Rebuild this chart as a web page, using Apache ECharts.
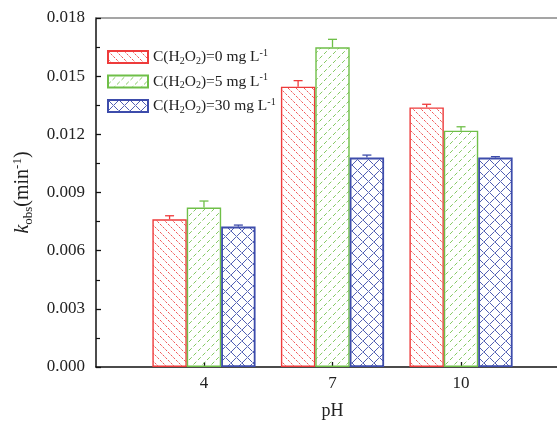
<!DOCTYPE html>
<html><head><meta charset="utf-8">
<script src="https://cdn.jsdelivr.net/npm/echarts@6/dist/echarts.min.js"></script>
<style>html,body{margin:0;padding:0;background:#fff}#c{width:557px;height:425px}</style>
</head><body><div id="c"></div>
<script>
// ---- data ----
const categories = ['4', '7', '10'];
const catIndex = [1, 2, 3];
const yTicks = ['0.000','0.003','0.006','0.009','0.012','0.015','0.018'];
const seriesNames = ['C(H2O2)=0 mg L-1', 'C(H2O2)=5 mg L-1', 'C(H2O2)=30 mg L-1'];
const k0 = [0.00762, 0.01446, 0.01339];
const err0 = [0.00018, 0.00031, 0.00016];
const k5 = [0.00822, 0.01649, 0.01219];
const err5 = [0.00034, 0.00041, 0.00020];
const k30 = [0.00724, 0.01080, 0.01080];
const err30 = [0.00008, 0.00013, 0.00005];

const colors = ['#ee3b3b', '#6fbf48', '#3d4cab'];
const BAR_W = 34.4;
const FONT = '"Liberation Serif", "Times New Roman", serif';

function makePattern(kind, color) {
  const s = kind === 'cross' ? 11 : (kind === 'back' ? 8 : 9);
  const c = document.createElement('canvas');
  c.width = s; c.height = s;
  const g = c.getContext('2d');
  g.strokeStyle = color; g.lineWidth = 1;
  const L = s * Math.SQRT2;
  if (kind === 'back') { g.globalAlpha = 0.85; g.setLineDash([L / 3 - 1.3, 1.3]); }
  if (kind === 'fwd') { g.globalAlpha = 0.85; g.setLineDash([L / 2 - 2.4, 2.4]); }
  if (kind === 'cross') { g.globalAlpha = 0.9; g.setLineDash([L / 2 - 0.8, 0.8]); }
  const drawBack = () => {
    g.beginPath(); g.moveTo(0, 0); g.lineTo(s, s); g.stroke();
    g.beginPath(); g.moveTo(-s, 0); g.lineTo(0, s); g.stroke();
    g.beginPath(); g.moveTo(s, 0); g.lineTo(2 * s, s); g.stroke();
  };
  const drawFwd = () => {
    g.beginPath(); g.moveTo(0, s); g.lineTo(s, 0); g.stroke();
    g.beginPath(); g.moveTo(-s, s); g.lineTo(0, 0); g.stroke();
    g.beginPath(); g.moveTo(s, s); g.lineTo(2 * s, 0); g.stroke();
  };
  if (kind === 'back') drawBack();
  else if (kind === 'fwd') drawFwd();
  else { drawBack(); drawFwd(); }
  return { image: c, repeat: 'repeat' };
}
const patterns = [makePattern('back', colors[0]), makePattern('fwd', colors[1]), makePattern('cross', colors[2])];

const values = [k0, k5, k30];
const errs = [err0, err5, err30];

const series = [];
values.forEach((vals, si) => {
  series.push({
    name: seriesNames[si],
    type: 'bar',
    barWidth: BAR_W,
    barGap: '0%',
    data: catIndex.map((x, i) => [x, vals[i]]),
    itemStyle: { color: patterns[si], borderColor: colors[si], borderWidth: si === 2 ? 1.8 : 1.4 },
    emphasis: { disabled: true },
    z: 2
  });
});
values.forEach((vals, si) => {
  series.push({
    type: 'custom',
    silent: true,
    z: 3,
    data: catIndex.map((x, i) => [x, vals[i], errs[si][i]]),
    renderItem: function (params, api) {
      const x = api.value(0), v = api.value(1), e = api.value(2);
      const off = (si - 1) * BAR_W;
      const p = api.coord([x, v]);
      const t = api.coord([x, v + e]);
      const cx = p[0] + off;
      return {
        type: 'group',
        children: [
          { type: 'line', shape: { x1: cx, y1: p[1], x2: cx, y2: t[1] }, style: { stroke: colors[si], lineWidth: 1.3 } },
          { type: 'line', shape: { x1: cx - 4.5, y1: t[1], x2: cx + 4.5, y2: t[1] }, style: { stroke: colors[si], lineWidth: 1.3 } }
        ]
      };
    }
  });
});

const chart = echarts.init(document.getElementById('c'), null, { renderer: 'canvas' });
chart.setOption({
  animation: false,
  backgroundColor: '#fff',
  textStyle: { fontFamily: FONT },
  grid: { left: 96, top: 18, width: 473, height: 349, outerBoundsMode: 'none', containLabel: false },
  legend: {
    orient: 'vertical',
    left: 102, top: 43,
    itemWidth: 40, itemHeight: 12, itemGap: 6.5,
    icon: 'rect',
    selectedMode: false,
    data: seriesNames,
    formatter: function (n) {
      const m = n.match(/=(\d+)/)[1];
      return 'C(H{sub|2}O{sub|2})=' + m + ' mg L{sup|-1}';
    },
    textStyle: {
      fontFamily: FONT, fontSize: 15.5, color: '#222', lineHeight: 18,
      rich: {
        sub: { fontFamily: FONT, fontSize: 10, verticalAlign: 'bottom', lineHeight: 18, color: '#222' },
        sup: { fontFamily: FONT, fontSize: 10, verticalAlign: 'top', lineHeight: 18, color: '#222' }
      }
    }
  },
  xAxis: [{
    type: 'value',
    min: 0.16, max: 3.84,
    position: 'bottom',
    name: 'pH',
    nameLocation: 'middle',
    nameGap: 35,
    nameTextStyle: { fontFamily: FONT, fontSize: 18, color: '#222' },
    axisLine: { show: true, onZero: false, lineStyle: { color: '#111', width: 1.5 } },
    axisTick: { show: true, inside: true, length: 5, customValues: catIndex, lineStyle: { color: '#111', width: 1.3 } },
    axisLabel: { customValues: catIndex, margin: 8, fontFamily: FONT, fontSize: 17, color: '#222',
      formatter: function (v) { return categories[catIndex.indexOf(Math.round(v))] || ''; } },
    splitLine: { show: false }
  }, {
    type: 'value',
    min: 0.16, max: 3.84,
    position: 'top',
    axisLine: { show: true, onZero: false, lineStyle: { color: '#888', width: 1.5 } },
    axisTick: { show: false }, axisLabel: { show: false }, splitLine: { show: false }
  }],
  yAxis: {
    type: 'value',
    min: 0, max: 0.018, interval: 0.003,
    name: '{k|k}{sub|obs}(min{sup|-1})',
    nameLocation: 'middle',
    nameRotate: 90,
    nameGap: 61,
    nameTextStyle: {
      fontFamily: FONT, fontSize: 20, color: '#222', lineHeight: 24,
      rich: {
        k: { fontFamily: FONT, fontSize: 20, fontStyle: 'italic', color: '#222', lineHeight: 24 },
        sub: { fontFamily: FONT, fontSize: 13, verticalAlign: 'bottom', color: '#222', lineHeight: 24 },
        sup: { fontFamily: FONT, fontSize: 13, verticalAlign: 'top', color: '#222', lineHeight: 24 }
      }
    },
    axisLine: { show: true, lineStyle: { color: '#111', width: 1.5 } },
    axisTick: { show: true, inside: true, length: 5, lineStyle: { color: '#111', width: 1.3 } },
    minorTick: { show: true, splitNumber: 2, length: 4, lineStyle: { color: '#111', width: 1.2 } },
    axisLabel: { margin: 11, fontFamily: FONT, fontSize: 17, color: '#222',
      formatter: function (v) { return yTicks[Math.round(v / 0.003)]; } },
    splitLine: { show: false }
  },
  series: series
});
</script></body></html>
